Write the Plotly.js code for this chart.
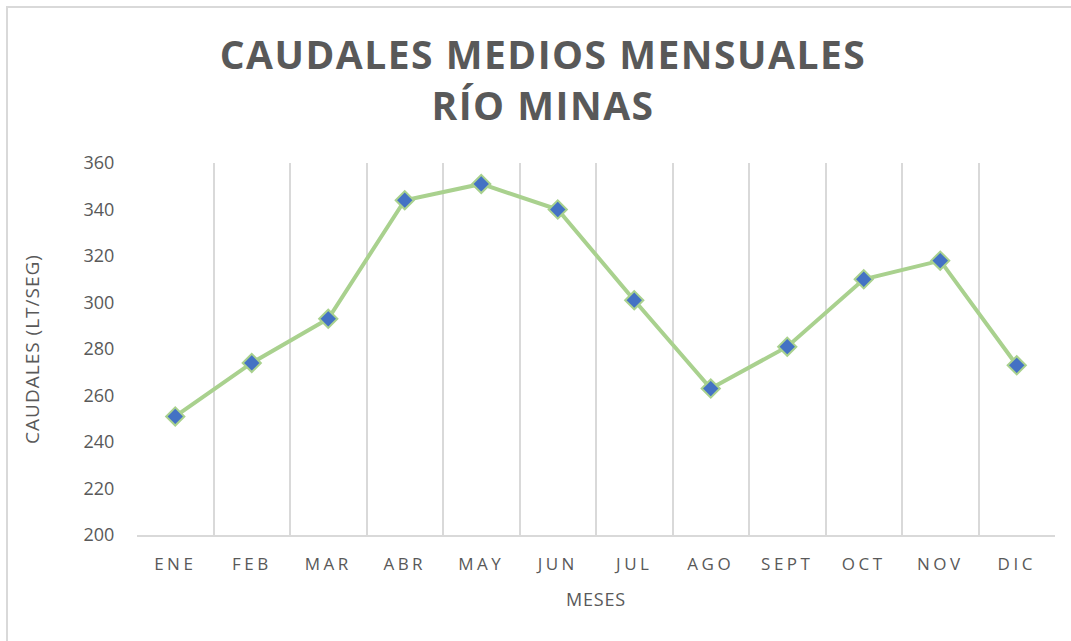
<!DOCTYPE html>
<html>
<head>
<meta charset="utf-8">
<script src="https://cdn.plot.ly/plotly-3.0.1.min.js"></script>
<style>
  body { margin: 0; background: #fff; }
  #chart { width: 1071px; height: 641px; }
  #frame { position: absolute; left: 6px; top: 6px; width: 1100px; height: 700px;
           border: 2px solid #d9d9d9; pointer-events: none; }
  .gtitle { letter-spacing: 1.5px; }
  .xtick text { letter-spacing: 3.5px; }
  .g-xtitle text { letter-spacing: 0.8px; }
  .g-ytitle text { letter-spacing: 1px; }
</style>
</head>
<body>
<div id="chart"></div>
<div id="frame"></div>
<script>
const months = ["ENE", "FEB", "MAR", "ABR", "MAY", "JUN", "JUL", "AGO", "SEPT", "OCT", "NOV", "DIC"];
const caudales = [251, 274, 293, 344, 351, 340, 301, 263, 281, 310, 318, 273];
const yTicks = [200, 220, 240, 260, 280, 300, 320, 340, 360];

const trace = {
  x: months,
  y: caudales,
  type: "scatter",
  mode: "lines+markers",
  line: { color: "#A9D18E", width: 4 },
  marker: { symbol: "diamond", size: 14, color: "#4472C4", line: { color: "#A9D18E", width: 2 } },
  hoverinfo: "x+y"
};

const layout = {
  width: 1071,
  height: 641,
  margin: { l: 137, r: 16, t: 163, b: 106 },
  paper_bgcolor: "#ffffff",
  plot_bgcolor: "#ffffff",
  showlegend: false,
  title: {
    text: "<b>CAUDALES MEDIOS MENSUALES<br>RÍO MINAS</b>",
    font: { family: "Open Sans, sans-serif", size: 39, color: "#595959" },
    x: 0.507, xanchor: "center",
    yref: "container",
    y: 0.892, yanchor: "top"
  },
  xaxis: {
    type: "category",
    range: [-0.5, 11.5],
    tickson: "boundaries",
    showgrid: true,
    gridcolor: "#d9d9d9",
    gridwidth: 2,
    showline: true,
    linecolor: "#d9d9d9",
    linewidth: 2,
    ticks: "",
    ticklabelstandoff: 13,
    tickfont: { family: "Open Sans, sans-serif", size: 17, color: "#595959" },
    title: { text: "MESES", font: { family: "Open Sans, sans-serif", size: 18, color: "#595959" }, standoff: 19 },
    fixedrange: true
  },
  yaxis: {
    range: [200, 360],
    tickvals: yTicks,
    showgrid: false,
    zeroline: false,
    showline: false,
    ticks: "outside",
    ticklen: 18,
    tickcolor: "rgba(0,0,0,0)",
    tickfont: { family: "Open Sans, sans-serif", size: 18, color: "#595959" },
    title: { text: "CAUDALES (LT/SEG)", font: { family: "Open Sans, sans-serif", size: 19, color: "#595959" }, standoff: 38 },
    fixedrange: true
  }
};

Plotly.newPlot("chart", [trace], layout, { displayModeBar: false, staticPlot: true });
</script>
</body>
</html>
